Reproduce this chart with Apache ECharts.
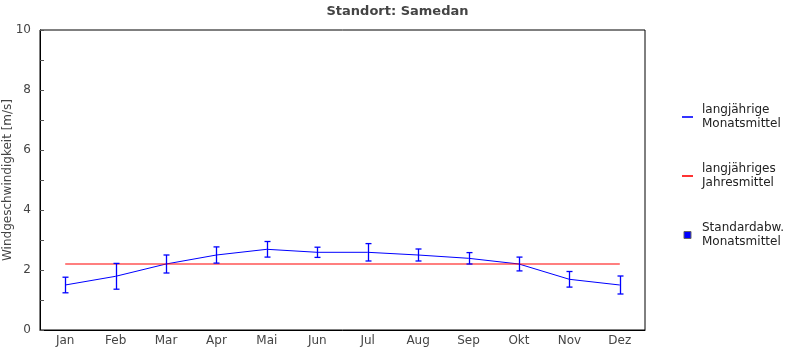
<!DOCTYPE html>
<html>
<head>
<meta charset="utf-8">
<script src="https://cdn.jsdelivr.net/npm/echarts@6/dist/echarts.min.js"></script>
<style>
  html, body { margin: 0; padding: 0; background: #ffffff; }
  #chart { width: 795px; height: 350px; }
</style>
</head>
<body>
<div id="chart"></div>
<script>
// Monthly wind speed in Samedan: long-term monthly means, standard deviation and annual mean
const months = ['Jan', 'Feb', 'Mar', 'Apr', 'Mai', 'Jun', 'Jul', 'Aug', 'Sep', 'Okt', 'Nov', 'Dez'];
const monthlyMean = [1.50, 1.79, 2.20, 2.50, 2.69, 2.59, 2.59, 2.50, 2.39, 2.20, 1.69, 1.50];
const monthlyStd = [0.26, 0.43, 0.30, 0.27, 0.26, 0.17, 0.29, 0.20, 0.19, 0.23, 0.26, 0.30];
const annualMean = 2.20;
const yTicks = [0, 2, 4, 6, 8, 10];

const textColor = '#444444';
const font = 'DejaVu Sans';

const annualLine = months.map(() => annualMean);
const errorData = months.map((m, i) => [i, monthlyMean[i] - monthlyStd[i], monthlyMean[i] + monthlyStd[i]]);

const chart = echarts.init(document.getElementById('chart'), null, { renderer: 'canvas' });

chart.setOption({
  animation: false,
  backgroundColor: '#ffffff',
  textStyle: { fontFamily: font },
  title: {
    text: 'Standort: Samedan',
    left: 'center',
    top: 5,
    padding: 0,
    textStyle: { fontFamily: font, fontSize: 13, fontWeight: 'bold', color: textColor }
  },
  grid: {
    left: 40, right: 150, top: 30, bottom: 20,
    show: true, borderColor: '#000000', borderWidth: 1,
    containLabel: false,
    outerBoundsMode: 'none'
  },
  legend: {
    orient: 'vertical',
    left: 682,
    top: 103,
    padding: 0,
    itemWidth: 11,
    itemHeight: 7,
    itemGap: 31,
    selectedMode: false,
    textStyle: { fontFamily: font, fontSize: 12, color: '#222222', lineHeight: 14, padding: [0, 0, 0, 4] },
    formatter: function (name) {
      return {
        'langjährige Monatsmittel': 'langjährige\nMonatsmittel',
        'langjähriges Jahresmittel': 'langjähriges\nJahresmittel',
        'Standardabw. Monatsmittel': 'Standardabw.\nMonatsmittel'
      }[name];
    },
    data: [
      { name: 'langjährige Monatsmittel', icon: 'path://M0,0H11V1.6H0Z', itemStyle: { color: '#0000ff', borderWidth: 0 } },
      { name: 'langjähriges Jahresmittel', icon: 'path://M0,0H11V1.6H0Z', itemStyle: { color: '#ff0000', borderWidth: 0 } },
      { name: 'Standardabw. Monatsmittel', icon: 'path://M0,0H7V7H0Z', itemStyle: { color: '#0000ff', borderColor: '#666666', borderWidth: 1 } }
    ]
  },
  xAxis: {
    type: 'category',
    data: months,
    boundaryGap: true,
    axisLine: { lineStyle: { color: '#000000', width: 1 } },
    axisTick: { inside: true, alignWithLabel: true, length: 5, lineStyle: { color: '#555555' } },
    axisLabel: { color: textColor, fontSize: 12, fontFamily: font, margin: 5 },
    splitLine: { show: false }
  },
  yAxis: {
    type: 'value',
    min: yTicks[0],
    max: yTicks[yTicks.length - 1],
    interval: 2,
    name: 'Windgeschwindigkeit [m/s]',
    nameLocation: 'middle',
    nameGap: 26,
    nameMoveOverlap: false,
    nameTextStyle: { color: textColor, fontSize: 12, fontFamily: font },
    axisLine: { show: true, lineStyle: { color: '#000000', width: 1 } },
    axisTick: { show: true, inside: true, length: 4, lineStyle: { color: '#555555' } },
    minorTick: { show: true, splitNumber: 2, length: 4, lineStyle: { color: '#555555' } },
    axisLabel: { color: textColor, fontSize: 12, fontFamily: font, margin: 9 },
    splitLine: { show: false }
  },
  series: [
    {
      name: 'langjährige Monatsmittel',
      type: 'line',
      data: monthlyMean,
      showSymbol: false,
      symbol: 'none',
      color: '#0000ff',
      lineStyle: { color: '#0000ff', width: 1 },
      z: 2
    },
    {
      name: 'langjähriges Jahresmittel',
      type: 'line',
      data: annualLine,
      showSymbol: false,
      symbol: 'none',
      color: '#ff0000',
      lineStyle: { color: '#ff0000', width: 1.2 },
      z: 3
    },
    {
      name: 'Standardabw. Monatsmittel',
      type: 'custom',
      color: '#0000ff',
      itemStyle: { color: '#0000ff' },
      data: errorData,
      z: 4,
      renderItem: function (params, api) {
        const x = api.value(0);
        const lo = api.coord([x, api.value(1)]);
        const hi = api.coord([x, api.value(2)]);
        const cx = Math.round(lo[0]) + 0.5;
        const half = 3;
        const style = { stroke: '#0000ff', lineWidth: 1.3, fill: null };
        return {
          type: 'group',
          children: [
            { type: 'line', shape: { x1: cx, y1: hi[1], x2: cx, y2: lo[1] }, style: style },
            { type: 'line', shape: { x1: cx - half, y1: hi[1], x2: cx + half, y2: hi[1] }, style: style },
            { type: 'line', shape: { x1: cx - half, y1: lo[1], x2: cx + half, y2: lo[1] }, style: style }
          ]
        };
      }
    }
  ]
});
</script>
</body>
</html>
